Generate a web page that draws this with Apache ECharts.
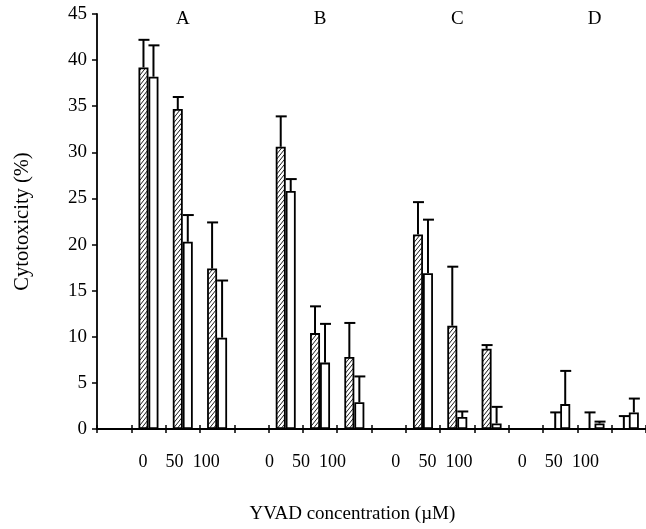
<!DOCTYPE html>
<html>
<head>
<meta charset="utf-8">
<script src="https://cdn.jsdelivr.net/npm/echarts@6/dist/echarts.min.js"></script>
<style>
  html, body { margin: 0; padding: 0; background: #fff; }
  #chart { width: 646px; height: 529px; }
</style>
</head>
<body>
<div id="chart"></div>
<script>
// groups of treatment, each with three YVAD concentrations
const groups = ['A', 'B', 'C', 'D'];
const concentrations = ['0', '50', '100'];

// hatched bars (mean and upper error)
const hatchedMean = [39.2, 34.7, 17.4, 30.6, 10.4, 7.8, 21.1, 11.2, 8.7, 0, 0, 0];
const hatchedErr = [3.0, 1.3, 5.0, 3.3, 2.9, 3.7, 3.5, 6.4, 0.4, 1.8, 1.8, 1.4];

// open bars (mean and upper error)
const openMean = [38.2, 20.3, 9.9, 25.8, 7.2, 2.9, 16.9, 1.3, 0.6, 2.7, 0.6, 1.8];
const openErr = [3.4, 2.9, 6.2, 1.3, 4.2, 2.8, 5.8, 0.6, 1.8, 3.6, 0.2, 1.5];

const FONT = '"Liberation Serif", "DejaVu Serif", serif';

// slot layout: one empty slot before each group
const categories = [];
const slotOf = [];      // value index -> slot index
const groupLabels = [];
groups.forEach((g, gi) => {
    categories.push('');
    groupLabels.push('');
    concentrations.forEach((c, ci) => {
        slotOf.push(categories.length);
        categories.push(c);
        groupLabels.push(ci === 1 ? g : '');
    });
});

const toSlots = arr => {
    const out = categories.map(() => '-');
    arr.forEach((v, i) => { out[slotOf[i]] = v; });
    return out;
};

// diagonal hatch pattern (up to the right)
const TW = 4, TH = 5;
const hatch = document.createElement('canvas');
hatch.width = TW;
hatch.height = TH;
const hctx = hatch.getContext('2d');
hctx.fillStyle = '#fff';
hctx.fillRect(0, 0, TW, TH);
hctx.strokeStyle = '#000';
hctx.lineWidth = 0.9;
hctx.beginPath();
[-TW, 0, TW].forEach(dx => {
    hctx.moveTo(dx - 0.8, TH + 1);
    hctx.lineTo(dx + TW + 0.8, -1);
});
hctx.stroke();

const BAR_W = 10;

function errorSeries(mean, err, offset) {
    return {
        type: 'custom',
        xAxisIndex: 0,
        yAxisIndex: 0,
        z: 5,
        silent: true,
        encode: { x: 0, y: 1 },
        data: mean.map((m, i) => [slotOf[i], m, err[i]]),
        renderItem: (params, api) => {
            const x = api.value(0);
            const m = api.value(1);
            const e = api.value(2);
            const p0 = api.coord([x, m]);
            const p1 = api.coord([x, m + e]);
            const cx = p0[0] + offset;
            const st = { stroke: '#000', lineWidth: 2 };
            return {
                type: 'group',
                children: [
                    { type: 'line', shape: { x1: cx, y1: p0[1], x2: cx, y2: p1[1] }, style: st },
                    { type: 'line', shape: { x1: cx - 5, y1: p1[1], x2: cx + 6, y2: p1[1] }, style: st }
                ]
            };
        }
    };
}

const chart = echarts.init(document.getElementById('chart'));

const option = {
    animation: false,
    backgroundColor: '#fff',
    grid: [
        { left: 97, right: 0, top: 14, bottom: 100 },
        { left: 95.6, width: 505.6, top: 14, bottom: 100 }
    ],
    xAxis: [
        {
            gridIndex: 0,
            type: 'category',
            data: categories,
            position: 'bottom',
            axisLine: { lineStyle: { color: '#000', width: 1.8 } },
            axisTick: { show: true, length: 4, lineStyle: { color: '#000', width: 1.5 } },
            axisLabel: { show: false }
        },
        {
            gridIndex: 0,
            type: 'category',
            data: categories,
            position: 'bottom',
            axisLine: { show: false },
            axisTick: { show: true, inside: true, length: 4, lineStyle: { color: '#000', width: 1.5 } },
            axisLabel: { show: false }
        },
        {
            gridIndex: 0,
            type: 'category',
            data: groupLabels,
            position: 'top',
            axisLine: { show: false },
            axisTick: { show: false },
            axisLabel: {
                inside: true,
                interval: 0,
                margin: -4,
                color: '#000',
                fontFamily: FONT,
                fontSize: 19
            }
        },
        {
            gridIndex: 1,
            type: 'category',
            data: categories,
            position: 'bottom',
            axisLine: { show: false },
            axisTick: { show: false },
            axisLabel: {
                interval: 0,
                margin: 24,
                color: '#000',
                fontFamily: FONT,
                fontSize: 18
            },
            name: 'YVAD concentration (\u00b5M)',
            nameLocation: 'middle',
            nameGap: 76,
            nameTextStyle: { color: '#000', fontFamily: FONT, fontSize: 19, padding: [0, 0, 0, 8] }
        }
    ],
    yAxis: [
        {
            gridIndex: 0,
            type: 'value',
            min: 0,
            max: 45,
            interval: 5,
            splitLine: { show: false },
            axisLine: { show: true, lineStyle: { color: '#000', width: 1.8 } },
            axisTick: { show: true, length: 5, lineStyle: { color: '#000', width: 1.5 } },
            axisLabel: { margin: 10, color: '#000', fontFamily: FONT, fontSize: 19 },
            name: 'Cytotoxicity (%)',
            nameLocation: 'middle',
            nameGap: 64,
            nameTextStyle: { color: '#000', fontFamily: FONT, fontSize: 20.5 }
        },
        {
            gridIndex: 1,
            type: 'value',
            min: 0,
            max: 45,
            show: false
        }
    ],
    series: [
        {
            type: 'bar',
            xAxisIndex: 0,
            yAxisIndex: 0,
            barWidth: BAR_W,
            barGap: '0%',
            data: toSlots(hatchedMean),
            itemStyle: {
                color: { image: hatch, repeat: 'repeat' },
                borderColor: '#000',
                borderWidth: 1.8
            }
        },
        {
            type: 'bar',
            xAxisIndex: 0,
            yAxisIndex: 0,
            barWidth: BAR_W,
            barGap: '0%',
            data: toSlots(openMean),
            itemStyle: {
                color: '#fff',
                borderColor: '#000',
                borderWidth: 1.8
            }
        },
        errorSeries(hatchedMean, hatchedErr, -BAR_W / 2),
        errorSeries(openMean, openErr, BAR_W / 2)
    ]
};

chart.setOption(option);
</script>
</body>
</html>
